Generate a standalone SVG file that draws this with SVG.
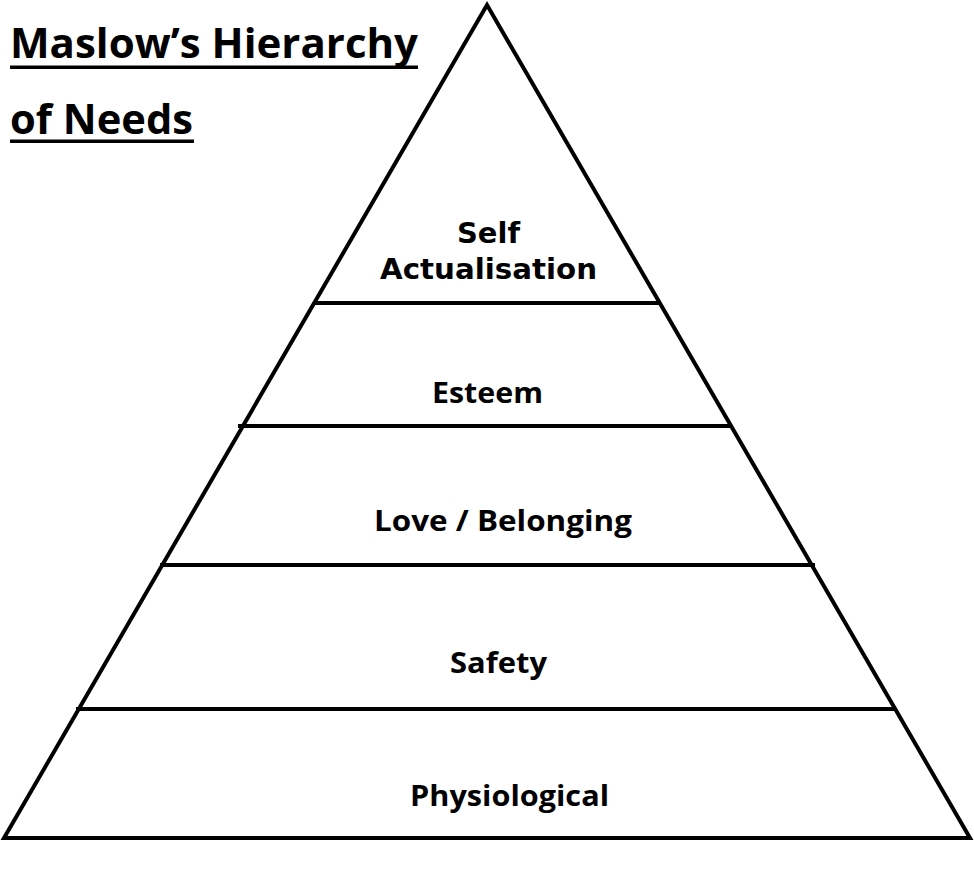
<svg xmlns="http://www.w3.org/2000/svg" width="974" height="896" viewBox="0 0 974 896">
<style>
.edge{fill:none;stroke:#000;stroke-width:4;stroke-linejoin:miter}
.tier{stroke:#000;stroke-width:4}
.lbl{font-family:"Open Sans","Noto Sans","Liberation Sans",sans-serif;font-weight:bold;font-size:29px;fill:#000}
.top{font-family:"DejaVu Sans","Liberation Sans",sans-serif;font-weight:bold;font-size:28px;fill:#000}
.title{font-family:"Open Sans","Noto Sans","Liberation Sans",sans-serif;font-weight:bold;font-size:42px;fill:#000}
</style>
<rect width="974" height="896" fill="#fff"/>
<g id="title">
<text class="title" x="10" y="58" textLength="408" lengthAdjust="spacingAndGlyphs">Maslow’s Hierarchy</text>
<rect x="10" y="65.5" width="408" height="3.5" fill="#000"/>
<text class="title" x="10" y="134" textLength="183" lengthAdjust="spacingAndGlyphs">of Needs</text>
<rect x="10" y="139.5" width="184" height="3.5" fill="#000"/>
</g>
<g id="connectors">
<polygon class="edge" points="487,5 4,838 970,838"/>
<line class="tier" x1="314" y1="303" x2="660" y2="303"/>
<line class="tier" x1="238" y1="426" x2="731" y2="426"/>
<line class="tier" x1="160" y1="565" x2="815" y2="565"/>
<line class="tier" x1="76" y1="709" x2="894" y2="709"/>
</g>
<g id="self-actualisation">
<text class="top" x="488.5" y="243" text-anchor="middle" textLength="63" lengthAdjust="spacingAndGlyphs">Self</text>
<text class="top" x="488.5" y="279" text-anchor="middle" textLength="217" lengthAdjust="spacingAndGlyphs">Actualisation</text>
</g>
<g id="esteem">
<text class="lbl" x="487.5" y="403" text-anchor="middle" textLength="111" lengthAdjust="spacingAndGlyphs">Esteem</text>
</g>
<g id="love-belonging">
<text class="lbl" x="503" y="531" text-anchor="middle" textLength="258" lengthAdjust="spacingAndGlyphs">Love / Belonging</text>
</g>
<g id="safety">
<text class="lbl" x="498.5" y="673" text-anchor="middle" textLength="97" lengthAdjust="spacingAndGlyphs">Safety</text>
</g>
<g id="physiological">
<text class="lbl" x="509.5" y="806" text-anchor="middle" textLength="199" lengthAdjust="spacingAndGlyphs">Physiological</text>
</g>
</svg>
